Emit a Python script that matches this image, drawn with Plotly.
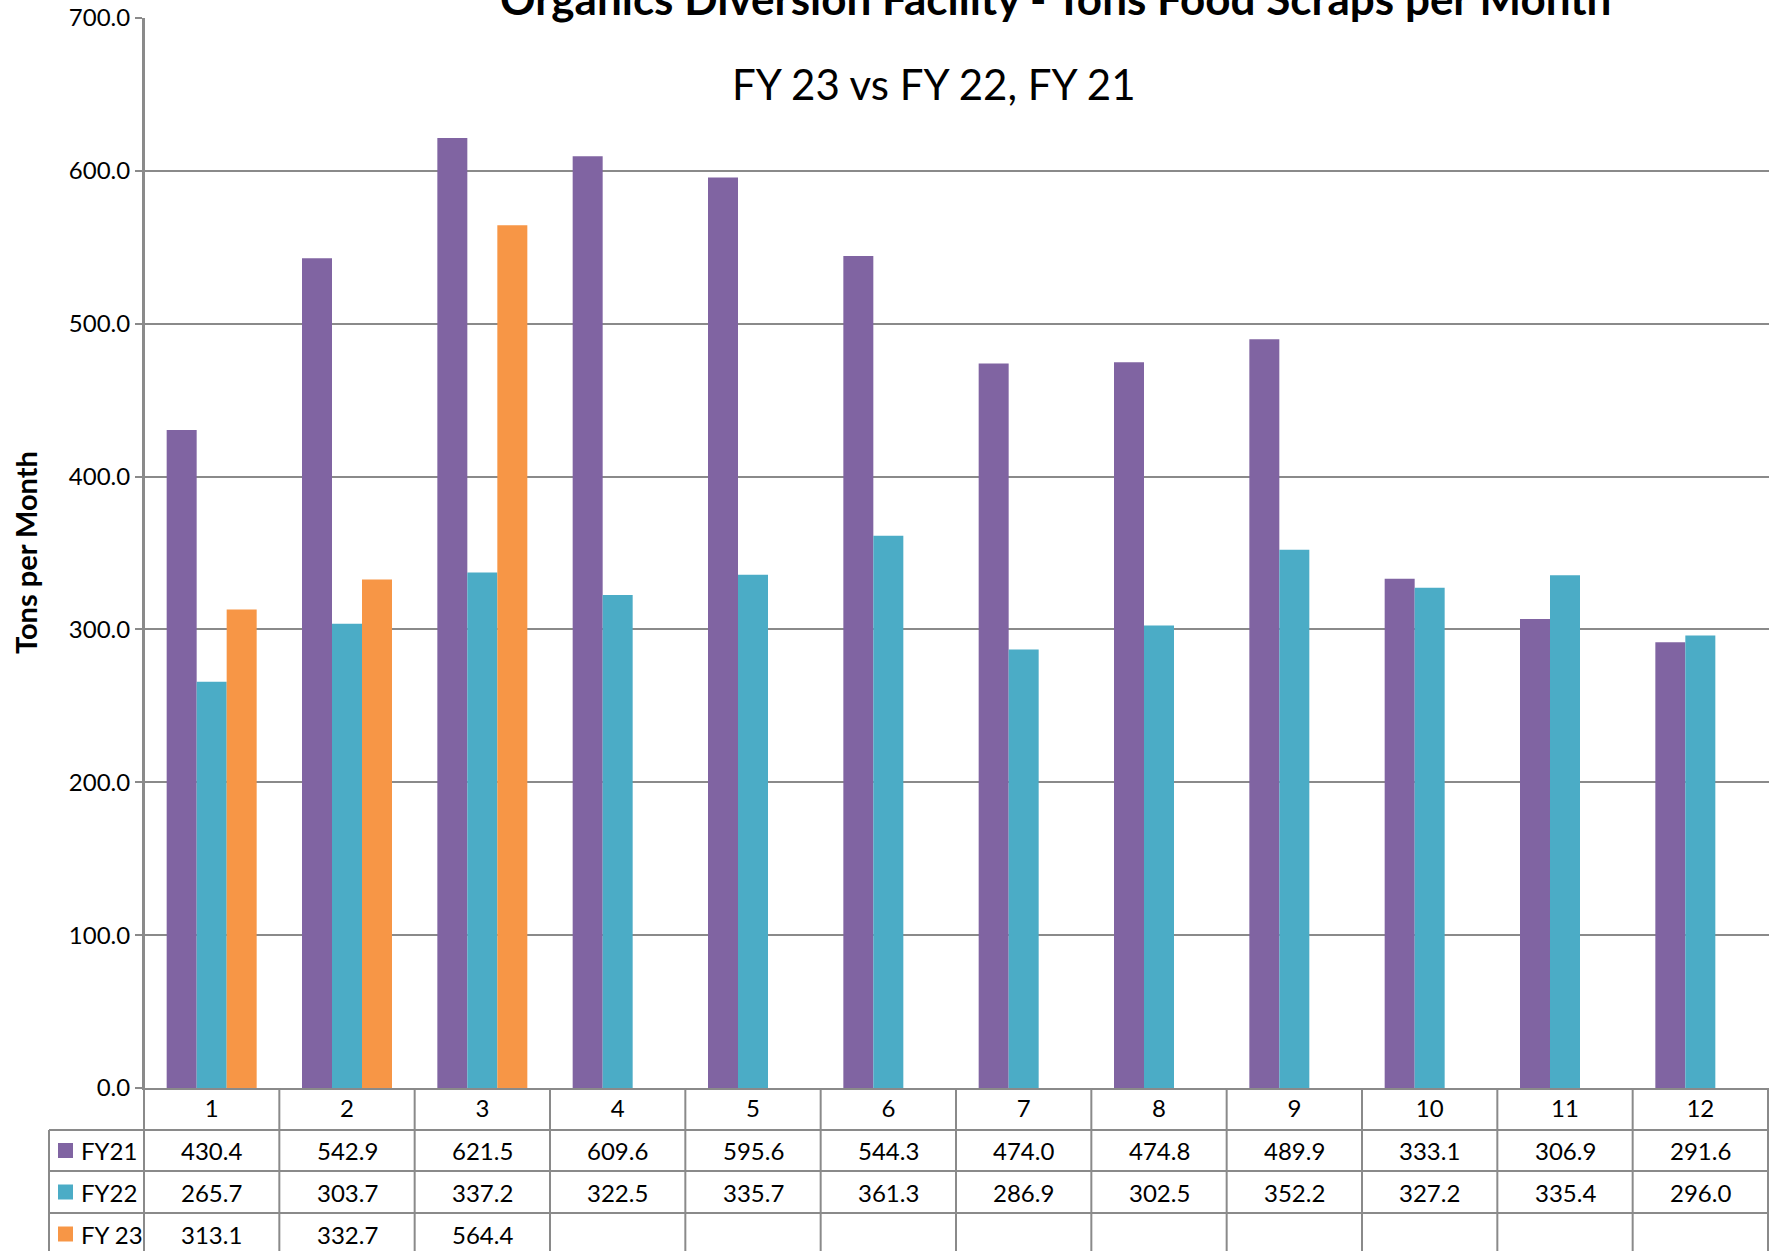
import plotly.graph_objects as go

months = ["1", "2", "3", "4", "5", "6", "7", "8", "9", "10", "11", "12"]
series_names = ["FY21", "FY22", "FY 23"]
fy21 = [430.4, 542.9, 621.5, 609.6, 595.6, 544.3, 474.0, 474.8, 489.9, 333.1, 306.9, 291.6]
fy22 = [265.7, 303.7, 337.2, 322.5, 335.7, 361.3, 286.9, 302.5, 352.2, 327.2, 335.4, 296.0]
fy23 = [313.1, 332.7, 564.4, None, None, None, None, None, None, None, None, None]
colors = ["#8064A2", "#4BACC6", "#F79646"]
y_ticks = [0, 100, 200, 300, 400, 500, 600, 700]

title_text = "Organics Diversion Facility - Tons Food Scraps per Month"
subtitle_text = "FY 23 vs FY 22, FY 21"
y_title = "Tons per Month"

W, H = 1769, 1251
ML, MR, MT, MB = 144, 0, 18, 163
PW, PH = W - ML - MR, H - MT - MB
FONT = "Lato"
GRID = "#8a8a8a"

def px_x(px):
    return (px - ML) / PW

def px_y(py):
    return 1 - (py - MT) / PH

fig = go.Figure()
all_series = [fy21, fy22, fy23]
for name, vals, c in zip(series_names, all_series, colors):
    fig.add_trace(go.Bar(x=months, y=vals, name=name, marker=dict(color=c, line=dict(width=0))))

shapes = []
annotations = []

# table geometry (pixel rows)
row_edges = [1088, 1130, 1171, 1213, 1255]
table_left = 49
n = len(months)
for r in row_edges[1:]:
    shapes.append(dict(type="line", xref="paper", yref="paper",
                       x0=px_x(table_left), x1=1, y0=px_y(r), y1=px_y(r),
                       line=dict(color=GRID, width=2)))
shapes.append(dict(type="line", xref="paper", yref="paper",
                   x0=px_x(table_left), x1=px_x(table_left), y0=px_y(row_edges[1]), y1=px_y(row_edges[-1]),
                   line=dict(color=GRID, width=2)))
shapes.append(dict(type="line", xref="paper", yref="paper",
                   x0=0, x1=0, y0=1, y1=px_y(row_edges[-1]),
                   line=dict(color=GRID, width=2)))
for i in range(1, n + 1):
    shapes.append(dict(type="line", xref="x", yref="paper",
                       x0=i - 0.5, x1=i - 0.5, y0=0, y1=px_y(row_edges[-1]),
                       line=dict(color=GRID, width=2)))

for k, (name, vals, c) in enumerate(zip(series_names, all_series, colors)):
    top, bot = row_edges[k + 1], row_edges[k + 2]
    mid = (top + bot) / 2
    shapes.append(dict(type="rect", xref="paper", yref="paper",
                       x0=px_x(58), x1=px_x(73), y0=px_y(mid - 7.5), y1=px_y(mid + 7.5),
                       fillcolor=c, line=dict(width=0)))
    annotations.append(dict(text=name, xref="paper", yref="paper", x=px_x(79), y=px_y(mid),
                            xanchor="left", yanchor="middle", showarrow=False,
                            font=dict(family=FONT, size=24, color="black")))
    for i, v in enumerate(vals):
        if v is None:
            continue
        annotations.append(dict(text=f"{v:.1f}", xref="x", yref="paper", x=i, y=px_y(mid),
                                xanchor="center", yanchor="middle", showarrow=False,
                                font=dict(family=FONT, size=24, color="black")))

annotations.append(dict(text=f"<b>{title_text}</b>", xref="paper", yref="paper",
                        x=px_x(1055), y=px_y(-2), xanchor="center", yanchor="middle",
                        showarrow=False, font=dict(family=FONT, size=44, color="black")))
annotations.append(dict(text=subtitle_text, xref="paper", yref="paper",
                        x=px_x(934), y=px_y(84.5), xanchor="center", yanchor="middle",
                        showarrow=False, font=dict(family=FONT, size=42, color="black")))
annotations.append(dict(text=f"<b>{y_title}</b>", xref="paper", yref="paper",
                        x=px_x(25), y=px_y(553), xanchor="center", yanchor="middle",
                        textangle=-90, showarrow=False, font=dict(family=FONT, size=29, color="black")))

fig.update_layout(
    width=W, height=H,
    margin=dict(l=ML, r=MR, t=MT, b=MB, pad=0),
    paper_bgcolor="white", plot_bgcolor="white",
    barmode="group", bargap=0.335, bargroupgap=0,
    showlegend=False,
    font=dict(family=FONT, size=24, color="black"),
    shapes=shapes, annotations=annotations,
    xaxis=dict(type="category", categoryorder="array", categoryarray=months,
               showgrid=False, showline=True, linecolor=GRID, linewidth=2,
               ticks="", ticklabelstandoff=-2,
               tickfont=dict(family=FONT, size=24, color="black")),
    yaxis=dict(range=[0, 700], tickvals=y_ticks, tickformat=".1f",
               showgrid=True, gridcolor=GRID, gridwidth=1.5,
               showline=True, linecolor=GRID, linewidth=2,
               ticks="outside", ticklen=7, tickcolor=GRID, tickwidth=1.5,
               zeroline=False, tickfont=dict(family=FONT, size=24, color="black")),
)

fig.write_html("out.html", config={"displayModeBar": False},
               post_script="document.body.style.margin='0';document.body.style.overflow='hidden';")
